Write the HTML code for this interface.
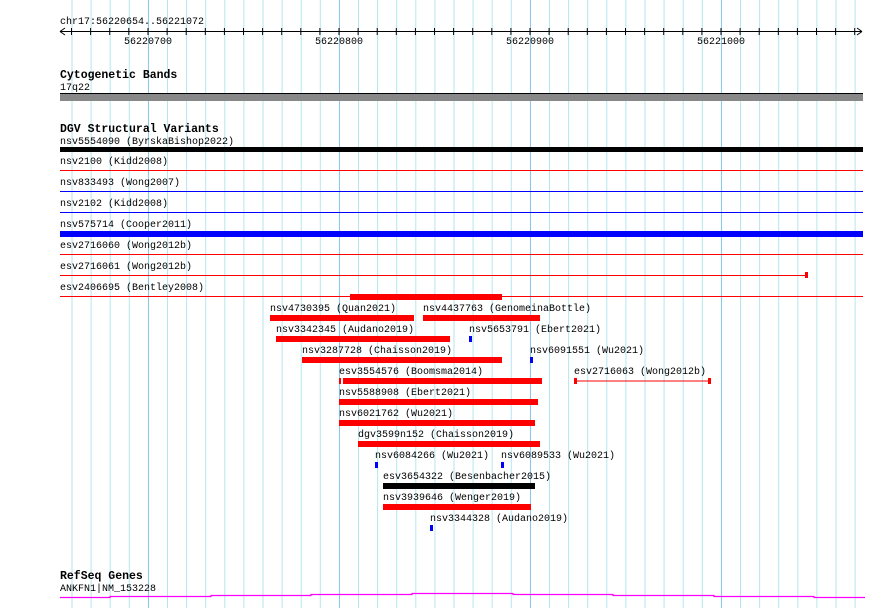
<!DOCTYPE html>
<html><head><meta charset="utf-8"><style>
html,body{margin:0;padding:0;background:#fff;}
svg{display:block;}
text{font-family:"Liberation Mono","DejaVu Sans Mono",monospace;font-size:10px;fill:#000;}
.b{font-weight:bold;font-size:11.5px;}
</style></head><body>
<svg width="890" height="608" viewBox="0 0 890 608" xmlns="http://www.w3.org/2000/svg">
<defs>
<pattern id="minor" x="71.5" y="0" width="19.1" height="608" patternUnits="userSpaceOnUse">
<line x1="0.5" y1="0" x2="0.5" y2="608" stroke="#b4e6ee" stroke-width="1"/>
</pattern>
<pattern id="major" x="148" y="0" width="191" height="608" patternUnits="userSpaceOnUse">
<line x1="0.5" y1="0" x2="0.5" y2="608" stroke="#8cc8ea" stroke-width="1"/>
</pattern>
</defs>
<rect x="60" y="0" width="803" height="608" fill="url(#minor)"/>
<rect x="60" y="0" width="803" height="608" fill="url(#major)"/>

<!-- ruler -->
<text x="60" y="24">chr17:56220654..56221072</text>
<line x1="60" y1="31.5" x2="862" y2="31.5" stroke="#000"/>
<path d="M60,31.5 L65,28 M60,31.5 L65,35 M862,31.5 L857,28 M862,31.5 L857,35" stroke="#000" fill="none"/>
<g stroke="#000">
<line x1="71.5" y1="28" x2="71.5" y2="35"/><line x1="90.6" y1="28" x2="90.6" y2="35"/><line x1="109.7" y1="28" x2="109.7" y2="35"/><line x1="128.8" y1="28" x2="128.8" y2="35"/><line x1="148" y1="28" x2="148" y2="35"/><line x1="167.1" y1="28" x2="167.1" y2="35"/><line x1="186.2" y1="28" x2="186.2" y2="35"/><line x1="205.3" y1="28" x2="205.3" y2="35"/><line x1="224.4" y1="28" x2="224.4" y2="35"/><line x1="243.5" y1="28" x2="243.5" y2="35"/><line x1="262.6" y1="28" x2="262.6" y2="35"/><line x1="281.7" y1="28" x2="281.7" y2="35"/><line x1="300.8" y1="28" x2="300.8" y2="35"/><line x1="319.9" y1="28" x2="319.9" y2="35"/><line x1="339" y1="28" x2="339" y2="35"/><line x1="358.1" y1="28" x2="358.1" y2="35"/><line x1="377.2" y1="28" x2="377.2" y2="35"/><line x1="396.3" y1="28" x2="396.3" y2="35"/><line x1="415.4" y1="28" x2="415.4" y2="35"/><line x1="434.5" y1="28" x2="434.5" y2="35"/><line x1="453.6" y1="28" x2="453.6" y2="35"/><line x1="472.7" y1="28" x2="472.7" y2="35"/><line x1="491.8" y1="28" x2="491.8" y2="35"/><line x1="510.9" y1="28" x2="510.9" y2="35"/><line x1="530" y1="28" x2="530" y2="35"/><line x1="549.1" y1="28" x2="549.1" y2="35"/><line x1="568.2" y1="28" x2="568.2" y2="35"/><line x1="587.3" y1="28" x2="587.3" y2="35"/><line x1="606.4" y1="28" x2="606.4" y2="35"/><line x1="625.5" y1="28" x2="625.5" y2="35"/><line x1="644.6" y1="28" x2="644.6" y2="35"/><line x1="663.7" y1="28" x2="663.7" y2="35"/><line x1="682.8" y1="28" x2="682.8" y2="35"/><line x1="701.9" y1="28" x2="701.9" y2="35"/><line x1="721" y1="28" x2="721" y2="35"/><line x1="740.1" y1="28" x2="740.1" y2="35"/><line x1="759.2" y1="28" x2="759.2" y2="35"/><line x1="778.3" y1="28" x2="778.3" y2="35"/><line x1="797.4" y1="28" x2="797.4" y2="35"/><line x1="816.5" y1="28" x2="816.5" y2="35"/><line x1="835.6" y1="28" x2="835.6" y2="35"/><line x1="854.7" y1="28" x2="854.7" y2="35"/>
</g>
<text x="124" y="44">56220700</text>
<text x="315" y="44">56220800</text>
<text x="506" y="44">56220900</text>
<text x="697" y="44">56221000</text>

<!-- cytogenetic -->
<text class="b" x="60" y="78">Cytogenetic Bands</text>
<text x="60" y="90">17q22</text>
<rect x="60" y="93" width="803" height="8" fill="#888"/>
<line x1="60" y1="93.5" x2="863" y2="93.5" stroke="#000"/>

<!-- DGV -->
<text class="b" x="60" y="132">DGV Structural Variants</text>
<text x="60" y="144">nsv5554090 (ByrskaBishop2022)</text>
<rect x="60" y="147" width="803" height="5" fill="#000"/>
<text x="60" y="164">nsv2100 (Kidd2008)</text>
<line x1="60" y1="170.5" x2="863" y2="170.5" stroke="#f00"/>
<text x="60" y="185">nsv833493 (Wong2007)</text>
<line x1="60" y1="191.5" x2="863" y2="191.5" stroke="#00f"/>
<text x="60" y="206">nsv2102 (Kidd2008)</text>
<line x1="60" y1="212.5" x2="863" y2="212.5" stroke="#00f"/>
<text x="60" y="227">nsv575714 (Cooper2011)</text>
<rect x="60" y="231" width="803" height="6" fill="#00f"/>
<text x="60" y="248">esv2716060 (Wong2012b)</text>
<line x1="60" y1="254.5" x2="863" y2="254.5" stroke="#f00"/>
<text x="60" y="269">esv2716061 (Wong2012b)</text>
<line x1="60" y1="275.5" x2="806" y2="275.5" stroke="#f00"/>
<rect x="805" y="272" width="3" height="6" fill="#f00"/>
<text x="60" y="290">esv2406695 (Bentley2008)</text>
<line x1="60" y1="296.5" x2="863" y2="296.5" stroke="#f00"/>
<rect x="350" y="294" width="152" height="6" fill="#f00"/>

<text x="270" y="311">nsv4730395 (Quan2021)</text>
<rect x="270" y="315" width="144" height="6" fill="#f00"/>
<text x="423" y="311">nsv4437763 (GenomeinaBottle)</text>
<rect x="423" y="315" width="117" height="6" fill="#f00"/>

<text x="276" y="332">nsv3342345 (Audano2019)</text>
<rect x="276" y="336" width="174" height="6" fill="#f00"/>
<text x="469" y="332">nsv5653791 (Ebert2021)</text>
<rect x="469" y="336" width="3" height="6" fill="#00f"/>

<text x="302" y="353">nsv3287728 (Chaisson2019)</text>
<rect x="302" y="357" width="200" height="6" fill="#f00"/>
<text x="530" y="353">nsv6091551 (Wu2021)</text>
<rect x="530" y="357" width="3" height="6" fill="#00f"/>

<text x="339" y="374">esv3554576 (Boomsma2014)</text>
<rect x="339" y="378" width="203" height="6" fill="#f00"/>
<rect x="341" y="378" width="2" height="6" fill="#fff"/>
<text x="574" y="374">esv2716063 (Wong2012b)</text>
<line x1="574" y1="381" x2="711" y2="381" stroke="#f00"/>
<rect x="574" y="378" width="3" height="6" fill="#f00"/>
<rect x="708" y="378" width="3" height="6" fill="#f00"/>

<text x="339" y="395">nsv5588908 (Ebert2021)</text>
<rect x="339" y="399" width="199" height="6" fill="#f00"/>
<text x="339" y="416">nsv6021762 (Wu2021)</text>
<rect x="339" y="420" width="196" height="6" fill="#f00"/>
<text x="358" y="437">dgv3599n152 (Chaisson2019)</text>
<rect x="358" y="441" width="182" height="6" fill="#f00"/>

<text x="375" y="458">nsv6084266 (Wu2021)</text>
<rect x="375" y="462" width="3" height="6" fill="#00f"/>
<text x="501" y="458">nsv6089533 (Wu2021)</text>
<rect x="501" y="462" width="3" height="6" fill="#00f"/>

<text x="383" y="479">esv3654322 (Besenbacher2015)</text>
<rect x="383" y="483" width="152" height="6" fill="#000"/>
<text x="383" y="500">nsv3939646 (Wenger2019)</text>
<rect x="383" y="504" width="148" height="6" fill="#f00"/>
<text x="430" y="521">nsv3344328 (Audano2019)</text>
<rect x="430" y="525" width="3" height="6" fill="#00f"/>

<!-- RefSeq -->
<text class="b" x="60" y="579">RefSeq Genes</text>
<text x="60" y="591">ANKFN1|NM_153228</text>
<path d="M60,597.5 H110 V596.5 H211 V595.5 H311 V594.5 H412 V593.5 H513 V594.5 H613 V595.5 H714 V596.5 H814 V597.5 H865" stroke="#f0f" stroke-width="1.2" fill="none"/>
</svg>
</body></html>
